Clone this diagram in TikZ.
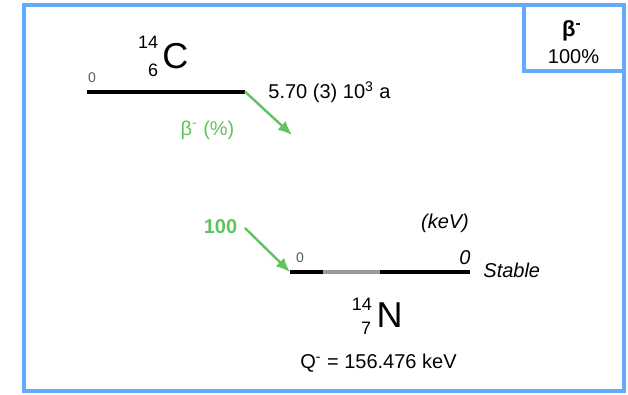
\documentclass[tikz,border=0pt]{standalone}
\usepackage{fontspec}
\setmainfont{Liberation Sans}
\usetikzlibrary{arrows.meta}

\definecolor{framecol}{RGB}{100,170,250}
\definecolor{decaygreen}{RGB}{95,195,95}

\begin{document}
\begin{tikzpicture}[
    level_line/.style = {line width=2pt},
    gray_seg/.style = {draw=black!40},
    small_lbl/.style = {font=\fontsize{7}{8}\selectfont, text=black!65, inner sep=0pt},
    nuc_num/.style = {font=\fontsize{9}{10}\selectfont, inner sep=0pt},
    nuc_elem/.style = {font=\fontsize{18}{20}\selectfont, inner sep=0pt},
    info_txt/.style = {font=\fontsize{10}{12}\selectfont, inner sep=0pt},
    % Style cho mui ten phan ra (mau xanh la)
    arrow_decay/.style = {-{Latex[length=7pt,width=6pt]}, line width=1.2pt, decaygreen},
    green_txt/.style = {info_txt, text=decaygreen}
]
\useasboundingbox (0,0) rectangle (11.036,6.924);

% --- Khung ngoai va hop che do phan ra ---
\draw[framecol, line width=2pt] (0.422,0.053) rectangle (10.966,6.836);
\node[draw=framecol, line width=2pt, minimum width=1.758cm, minimum height=1.16cm, inner sep=0pt] (mode_box) at (10.087,6.256) {};
\node[info_txt, font=\fontsize{11}{13}\selectfont\bfseries] (mode_name) at (10.052,6.388) {β\textsuperscript{-}};
\node[info_txt] (mode_pct) at (10.078,5.931) {100\%};

% --- Muc tren: hat nhan me 14C ---
\coordinate (c_start) at (1.529,5.314);
\coordinate (c_end) at (4.305,5.314);
\draw[level_line] (c_start) -- (c_end);
\node[small_lbl] (c_energy) at (1.617,5.553) {0};
\node[nuc_num] (c_mass) at (2.601,6.186) {14};
\node[nuc_num] (c_charge) at (2.689,5.694) {6};
\node[nuc_elem] (c_elem) at (3.084,5.940) {C};
\node[info_txt, anchor=west] (c_halflife) at (4.710,5.306) {5.70 (3) 10\textsuperscript{3} a};

% Mui ten beta- di ra
\coordinate (beta_tip) at (5.131,4.551);
\draw[arrow_decay] (c_end) -- (beta_tip);
\node[green_txt] (beta_lbl) at (3.646,4.639) {β\textsuperscript{-} (\%)};

% --- Muc duoi: hat nhan con 14N ---
\coordinate (n_start) at (5.096,2.144);
\coordinate (n_gap1) at (5.676,2.144);
\coordinate (n_gap2) at (6.678,2.144);
\coordinate (n_end) at (8.259,2.144);
\draw[level_line] (n_start) -- (n_gap1);
\draw[level_line, gray_seg] (n_gap1) -- (n_gap2);
\draw[level_line] (n_gap2) -- (n_end);
\node[small_lbl] (n_energy) at (5.272,2.390) {0};
\node[info_txt, font=\fontsize{10}{12}\selectfont\itshape] (n_energy_r) at (8.171,2.400) {0};
\node[info_txt, font=\fontsize{10}{12}\selectfont\itshape] (unit_lbl) at (7.820,3.005) {(keV)};
\node[info_txt, font=\fontsize{10}{12}\selectfont\itshape, anchor=west] (n_stable) at (8.488,2.179) {Stable};

% Mui ten nap vao muc 0
\coordinate (feed_start) at (4.305,2.917);
\draw[arrow_decay] (feed_start) -- (n_start);
\node[green_txt, font=\fontsize{10}{12}\selectfont\bfseries] (feed_pct) at (3.875,2.935) {100};

\node[nuc_num] (n_mass) at (6.361,1.582) {14};
\node[nuc_num] (n_charge) at (6.432,1.160) {7};
\node[nuc_elem] (n_elem) at (6.845,1.388) {N};
\node[info_txt] (q_value) at (6.651,0.545) {Q\textsuperscript{-} = 156.476 keV};

\end{tikzpicture}
\end{document}
